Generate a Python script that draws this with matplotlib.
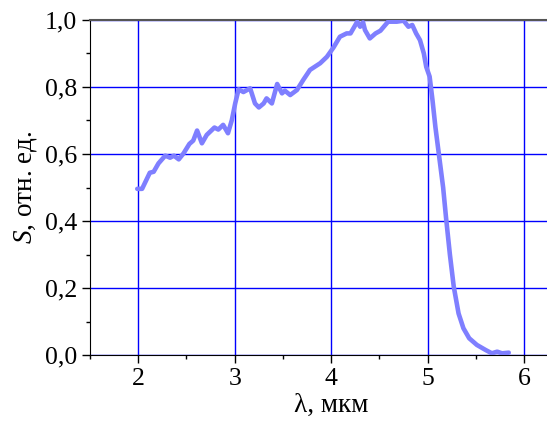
import matplotlib.pyplot as plt
from matplotlib.ticker import MultipleLocator, FuncFormatter

# spectrum
wl = [1.99, 2.04, 2.12, 2.16, 2.21, 2.28, 2.33, 2.37, 2.42, 2.47, 2.53, 2.57,
      2.61, 2.66, 2.71, 2.79, 2.83, 2.88, 2.93, 2.97, 3.005, 3.04, 3.09, 3.16,
      3.21, 3.25, 3.30, 3.33, 3.385, 3.44, 3.49, 3.52, 3.575, 3.645, 3.71, 3.78,
      3.886, 3.955, 4.024, 4.09, 4.16, 4.20, 4.23, 4.27, 4.30, 4.33, 4.35, 4.40,
      4.46, 4.51, 4.56, 4.59, 4.68, 4.75, 4.80, 4.84, 4.88, 4.92, 4.96, 4.985,
      5.02, 5.05, 5.08, 5.12, 5.16, 5.19, 5.23, 5.27, 5.32, 5.37, 5.43, 5.51,
      5.60, 5.665, 5.72, 5.77, 5.84]
s = [0.496, 0.496, 0.544, 0.547, 0.572, 0.595, 0.589, 0.595, 0.584, 0.602, 0.630, 0.640,
     0.670, 0.632, 0.657, 0.679, 0.673, 0.687, 0.662, 0.701, 0.751, 0.793, 0.785, 0.796,
     0.751, 0.739, 0.751, 0.766, 0.751, 0.809, 0.781, 0.789, 0.776, 0.791, 0.821, 0.851,
     0.871, 0.890, 0.918, 0.950, 0.960, 0.960, 0.975, 0.995, 0.980, 0.993, 0.970, 0.945,
     0.960, 0.968, 0.985, 0.995, 0.995, 0.998, 0.980, 0.985, 0.960, 0.940, 0.900, 0.860,
     0.831, 0.760, 0.680, 0.590, 0.500, 0.410, 0.300, 0.204, 0.124, 0.080, 0.050, 0.030,
     0.015, 0.005, 0.010, 0.005, 0.007]

plt.rcParams['font.family'] = 'Liberation Serif'
plt.rcParams['mathtext.fontset'] = 'custom'
plt.rcParams['mathtext.it'] = 'Liberation Serif:italic'
plt.rcParams['mathtext.rm'] = 'Liberation Serif'

fig = plt.figure(figsize=(5.47, 4.30), dpi=100)
# the original plot is cropped on the right, so the axes run past the figure edge
ax = fig.add_axes([0.1645, 0.1744, 0.882, 0.7791])

ax.plot(wl, s, color='#7f7fff', lw=3.3, solid_capstyle='round',
        solid_joinstyle='round', zorder=3)

ax.set_xlim(1.5, 6.5)
ax.set_ylim(0, 1.0)
ax.xaxis.set_major_locator(MultipleLocator(1))
ax.xaxis.set_minor_locator(MultipleLocator(0.5))
ax.yaxis.set_major_locator(MultipleLocator(0.2))
ax.yaxis.set_minor_locator(MultipleLocator(0.1))
ax.yaxis.set_major_formatter(FuncFormatter(lambda v, p: f'{v:.1f}'.replace('.', ',')))
ax.grid(True, which='major', color='#0000ff', lw=1)

ax.tick_params(which='major', direction='out', length=6, width=1, labelsize=18.5)
ax.tick_params(which='minor', direction='out', length=3, width=1)

ax.spines['right'].set_visible(False)
ax.spines['top'].set_color('#555555')
ax.spines['top'].set_linewidth(1.5)

ax.set_xlabel('λ, мкм', fontsize=19.5, labelpad=2)
ax.set_ylabel('$S$, отн. ед.', fontsize=19.5, labelpad=4)

fig.savefig('out.png', dpi=100)
